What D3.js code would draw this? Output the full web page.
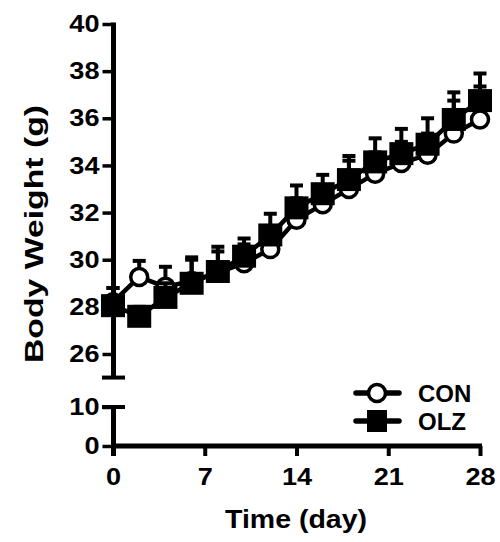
<!DOCTYPE html>
<html>
<head>
<meta charset="utf-8">
<script src="https://d3js.org/d3.v7.min.js"></script>
<style>
  body { margin: 0; background: #fff; }
  text { font-family: "Liberation Sans", Arial, sans-serif; font-weight: bold; fill: #000; }
</style>
</head>
<body>
<svg id="area" width="500" height="542"></svg>
<script>
// data (body weight in g, mean and SEM)
const days = [0, 2, 4, 6, 8, 10, 12, 14, 16, 18, 20, 22, 24, 26, 28];
const conMean = [28.2, 29.27, 28.85, 29.1, 29.45, 29.85, 30.45, 31.7, 32.35, 33.0, 33.65, 34.1, 34.45, 35.35, 35.95];
const conSem = [0.6, 0.68, 0.85, 0.9, 0.9, 0.8, 0.8, 0.9, 0.8, 1.2, 0.9, 0.9, 0.9, 1.4, 1.4];
const olzMean = [28.05, 27.6, 28.4, 29.0, 29.5, 30.15, 31.05, 32.2, 32.8, 33.4, 34.15, 34.5, 34.9, 35.95, 36.75];
const olzSem = [0.75, 0.4, 0.6, 1.1, 1.05, 0.75, 0.9, 0.95, 0.8, 1.0, 1.0, 1.05, 1.1, 1.15, 1.15];

const xTicks = [0, 7, 14, 21, 28];
const yTopTicks = [26, 28, 30, 32, 34, 36, 38, 40];
const yBotTicks = [0, 10];
const seriesNames = ['CON', 'OLZ'];

const svg = d3.select('#area');

const x = d3.scaleLinear().domain([0, 28]).range([113, 480]);
const yTop = d3.scaleLinear().domain([26, 40]).range([354, 24]);
const yBot = d3.scaleLinear().domain([0, 10]).range([446, 407]);
const breakLow = 25;

// stretch tick text horizontally like the original
function stretch(sel, k) {
  sel.each(function () {
    const t = d3.select(this);
    const xv = +t.attr('x') || 0;
    t.attr('x', xv / k).attr('transform', `scale(${k},1)`);
  });
}

function styleAxis(g) {
  g.select('.domain').attr('stroke', '#000').attr('stroke-width', 5);
  g.selectAll('.tick line').attr('stroke', '#000').attr('stroke-width', 3.5);
  g.selectAll('.tick text').style('font-size', '24px');
}

// upper y segment
const gTop = svg.append('g')
  .attr('transform', 'translate(113.5,0)')
  .call(d3.axisLeft(yTop).tickValues(yTopTicks).tickSize(11).tickSizeOuter(0));
gTop.select('.domain').attr('d', `M0,${yTop(breakLow)}V${yTop(40) - 1.5}`);
styleAxis(gTop);
gTop.selectAll('.tick text').attr('x', -14);
stretch(gTop.selectAll('.tick text'), 1.13);

// lower y segment
const gBot = svg.append('g')
  .attr('transform', 'translate(113.5,0)')
  .call(d3.axisLeft(yBot).tickValues(yBotTicks).tickSize(11).tickSizeOuter(0));
gBot.select('.domain').attr('d', `M0,${yBot(10)}V${yBot(0) + 10}`);
styleAxis(gBot);
gBot.selectAll('.tick text').attr('x', -14);
stretch(gBot.selectAll('.tick text'), 1.13);

// break caps
[yTop(breakLow), yBot(10)].forEach((yy) => {
  svg.append('line')
    .attr('x1', 102).attr('x2', 125)
    .attr('y1', yy).attr('y2', yy)
    .attr('stroke', '#000').attr('stroke-width', 4);
});

// x axis
const gX = svg.append('g')
  .attr('transform', `translate(0,${yBot(0)})`)
  .call(d3.axisBottom(x).tickValues(xTicks).tickSize(10).tickSizeOuter(0));
gX.select('.domain').attr('d', `M${x(0)},0H${x(28) + 2}`);
styleAxis(gX);
gX.selectAll('.tick line').attr('stroke-width', 4);
gX.selectAll('.tick text').attr('y', 22);
stretch(gX.selectAll('.tick text'), 1.13);

// axis titles
svg.append('text')
  .attr('x', 296).attr('y', 528)
  .attr('text-anchor', 'middle')
  .attr('textLength', 142).attr('lengthAdjust', 'spacingAndGlyphs')
  .style('font-size', '25px')
  .text('Time (day)');

svg.append('text')
  .attr('transform', 'rotate(-90)')
  .attr('x', -234).attr('y', 43)
  .attr('text-anchor', 'middle')
  .attr('textLength', 258).attr('lengthAdjust', 'spacingAndGlyphs')
  .style('font-size', '25px')
  .text('Body Weight (g)');

// series
function toRows(means, sems) {
  return days.map((d, i) => ({ day: d, mean: means[i], sem: sems[i] }));
}
const con = toRows(conMean, conSem);
const olz = toRows(olzMean, olzSem);

const line = d3.line().x((d) => x(d.day)).y((d) => yTop(d.mean));

function drawSeries(rows, marker) {
  const g = svg.append('g');
  g.append('path')
    .datum(rows)
    .attr('d', line)
    .attr('fill', 'none')
    .attr('stroke', '#000')
    .attr('stroke-width', 4.5);
  const err = g.selectAll('g.err').data(rows).join('g').attr('class', 'err');
  err.append('line')
    .attr('x1', (d) => x(d.day)).attr('x2', (d) => x(d.day))
    .attr('y1', (d) => yTop(d.mean)).attr('y2', (d) => yTop(d.mean + d.sem))
    .attr('stroke', '#000').attr('stroke-width', 4);
  err.append('line')
    .attr('x1', (d) => x(d.day) - 6.5).attr('x2', (d) => x(d.day) + 6.5)
    .attr('y1', (d) => yTop(d.mean + d.sem)).attr('y2', (d) => yTop(d.mean + d.sem))
    .attr('stroke', '#000').attr('stroke-width', 4);
  if (marker === 'circle') {
    g.selectAll('circle').data(rows).join('circle')
      .attr('cx', (d) => x(d.day)).attr('cy', (d) => yTop(d.mean))
      .attr('r', 8.5)
      .attr('fill', '#fff').attr('stroke', '#000').attr('stroke-width', 3.5);
  } else {
    g.selectAll('rect').data(rows).join('rect')
      .attr('x', (d) => x(d.day) - 12).attr('y', (d) => yTop(d.mean) - 11.5)
      .attr('width', 24).attr('height', 23)
      .attr('fill', '#000');
  }
}

drawSeries(con, 'circle');
drawSeries(olz, 'square');

// legend
const legend = svg.append('g');
seriesNames.forEach((name, i) => {
  const yy = 393 + i * 28;
  legend.append('line')
    .attr('x1', 356).attr('x2', 399)
    .attr('y1', yy).attr('y2', yy)
    .attr('stroke', '#000').attr('stroke-width', 5.5).attr('stroke-linecap', 'round');
  if (i === 0) {
    legend.append('circle')
      .attr('cx', 377).attr('cy', yy).attr('r', 8.5)
      .attr('fill', '#fff').attr('stroke', '#000').attr('stroke-width', 3.5);
  } else {
    legend.append('rect')
      .attr('x', 367).attr('y', yy - 11).attr('width', 20).attr('height', 22)
      .attr('fill', '#000');
  }
  legend.append('text')
    .attr('x', 418).attr('y', yy + 8.5)
    .style('font-size', '24px')
    .text(name);
});
</script>
</body>
</html>
